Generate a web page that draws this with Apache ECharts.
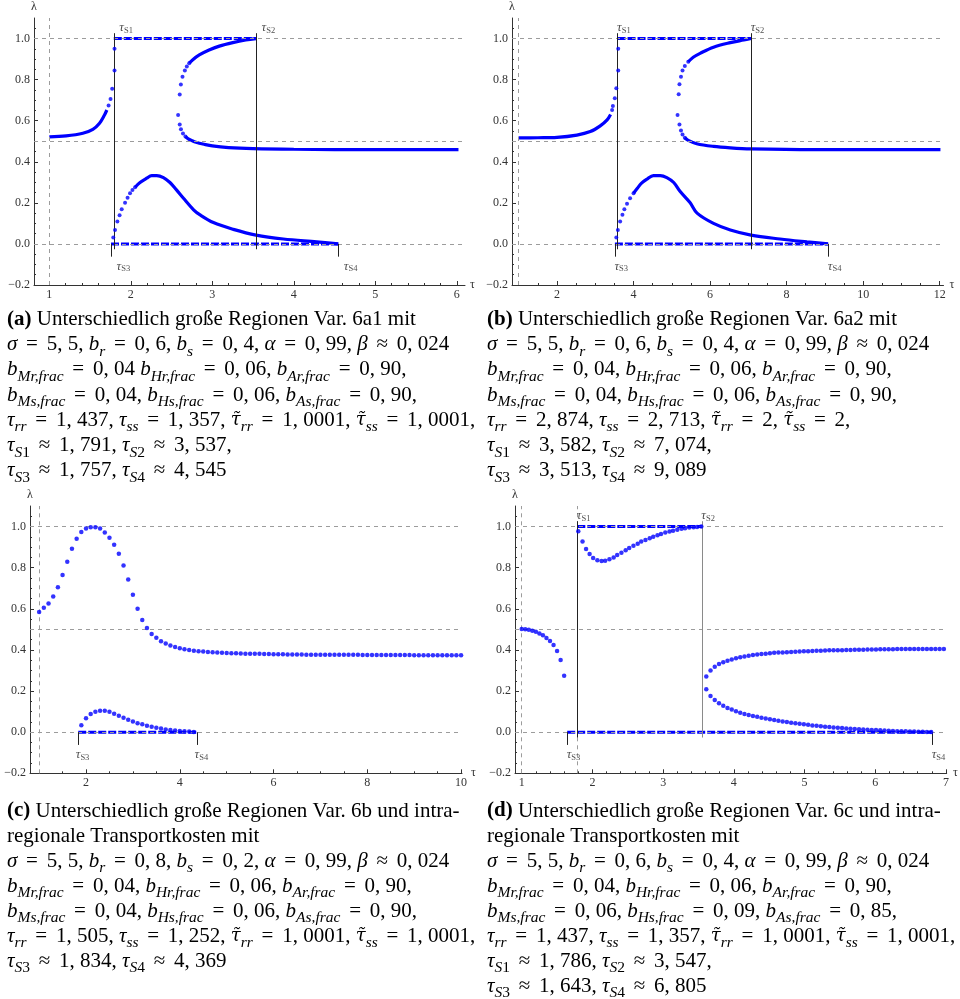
<!DOCTYPE html>
<html><head><meta charset="utf-8">
<script src="https://cdn.jsdelivr.net/npm/echarts@6/dist/echarts.min.js"></script>
<style>html,body{margin:0;padding:0;background:#fff}#c{width:960px;height:999px}</style>
</head><body><div id="c"></div><script>
// ================= DATA =================
// tick values
const yMajor = [-0.2, 0, 0.2, 0.4, 0.6, 0.8, 1.0];
const yMinor = [-0.15,-0.1,-0.05,0.05,0.1,0.15,0.25,0.3,0.35,0.45,0.5,0.55,0.65,0.7,0.75,0.85,0.9,0.95,1.05];
const xMajorA = [1,2,3,4,5,6];
const xMinorA = [1.2,1.4,1.6,1.8,2.2,2.4,2.6,2.8,3.2,3.4,3.6,3.8,4.2,4.4,4.6,4.8,5.2,5.4,5.6,5.8];
const xMajorB = [2,4,6,8,10,12];
const xMinorB = [1,1.5,2.5,3,3.5,4.5,5,5.5,6.5,7,7.5,8.5,9,9.5,10.5,11,11.5];
const xMajorC = [2,4,6,8,10];
const xMinorC = [1,1.5,2.5,3,3.5,4.5,5,5.5,6.5,7,7.5,8.5,9,9.5];
const xMajorD = [1,2,3,4,5,6,7];
const xMinorD = [1.2,1.4,1.6,1.8,2.2,2.4,2.6,2.8,3.2,3.4,3.6,3.8,4.2,4.4,4.6,4.8,5.2,5.4,5.6,5.8,6.2,6.4,6.6,6.8];
// reference levels
const refLevels = [0, 0.5, 1];
const refTau = 1;

// ---- panel (a) ----
const tauSA = [1.791, 3.537, 1.757, 4.545]; // S1, S2, S3, S4
const aLeftLine  = [[1.0,0.521],[1.206,0.526],[1.411,0.539],[1.534,0.558],[1.616,0.588],[1.677,0.628],[1.706,0.652]];
const aLeftDots  = [[1.727,0.674],[1.751,0.706],[1.771,0.755],[1.80,0.844],[1.80,0.95]];
const aUpperDots = [[2.58,0.628],[2.60,0.727],[2.614,0.776],[2.634,0.814],[2.663,0.844],[2.687,0.864],[2.716,0.88]];
const aUpperLine = [[2.716,0.88],[2.757,0.896],[2.84,0.92],[2.96,0.944],[3.086,0.963],[3.25,0.98],[3.41,0.993],[3.537,1.0]];
const aLowerDots = [[2.60,0.581],[2.615,0.558],[2.64,0.538],[2.67,0.523]];
const aLowerLine = [[2.67,0.523],[2.70,0.513],[2.75,0.503],[2.8,0.495],[2.9,0.485],[3.0,0.477],[3.2,0.469],[3.5,0.464],[4.0,0.461],[5.0,0.459],[6.02,0.459]];
const aHumpDots  = [[1.785,0.031],[1.806,0.068],[1.835,0.109],[1.862,0.14],[1.888,0.169],[1.929,0.201],[1.96,0.225],[1.99,0.247],[2.02,0.262],[2.052,0.276]];
const aHumpLine  = [[2.052,0.276],[2.113,0.299],[2.195,0.32],[2.256,0.333],[2.318,0.333],[2.40,0.323],[2.48,0.299],[2.56,0.263],[2.646,0.222],[2.77,0.166],[2.85,0.141],[3.013,0.104],[3.258,0.071],[3.536,0.043],[3.871,0.024],[4.28,0.01],[4.545,0.0]];

// ---- panel (b) ----
const tauSB = [3.582, 7.074, 3.513, 9.089];
const bLeftLine  = [[0.996,0.516],[1.5,0.517],[2.0,0.519],[2.52,0.530],[2.87,0.547],[3.13,0.575],[3.31,0.604],[3.40,0.63]];
const bLeftDots  = [[3.44,0.652],[3.46,0.672],[3.51,0.709],[3.55,0.758],[3.60,0.844],[3.60,0.95]];
const bUpperDots = [[5.15,0.628],[5.18,0.729],[5.20,0.777],[5.24,0.814],[5.28,0.844],[5.34,0.866],[5.43,0.887]];
const bUpperLine = [[5.43,0.887],[5.56,0.909],[5.74,0.928],[6.09,0.958],[6.53,0.98],[6.88,0.993],[7.074,1.0]];
const bLowerDots = [[5.20,0.581],[5.24,0.552],[5.28,0.533],[5.34,0.517]];
const bLowerLine = [[5.34,0.517],[5.43,0.504],[5.65,0.488],[6.09,0.475],[6.53,0.468],[7.07,0.463],[8.71,0.459],[12.02,0.459]];
const bHumpDots  = [[3.55,0.031],[3.59,0.068],[3.65,0.109],[3.71,0.142],[3.76,0.169],[3.83,0.195],[3.91,0.222],[4.0,0.247]];
const bHumpLine  = [[4.0,0.247],[4.1,0.271],[4.21,0.296],[4.35,0.315],[4.52,0.333],[4.7,0.333],[4.87,0.323],[5.05,0.299],[5.22,0.255],[5.48,0.2],[5.66,0.15],[6.09,0.1],[6.53,0.068],[7.07,0.043],[7.83,0.024],[8.53,0.01],[9.08,0.0]];

// ---- panel (c) ----
const tauSC = [1.834, 4.369]; // S3, S4
const cTau = [1.0,1.1,1.2,1.3,1.4,1.5,1.6,1.7,1.8,1.9,
  2.0,2.1,2.2,2.3,2.4,2.5,2.6,2.7,2.8,2.9,
  3.0,3.1,3.2,3.3,3.4,3.5,3.6,3.7,3.8,3.9,
  4.0,4.1,4.2,4.3,4.4,4.5,4.6,4.7,4.8,4.9,
  5.0,5.1,5.2,5.3,5.4,5.5,5.6,5.7,5.8,5.9,
  6.0,6.1,6.2,6.3,6.4,6.5,6.6,6.7,6.8,6.9,
  7.0,7.1,7.2,7.3,7.4,7.5,7.6,7.7,7.8,7.9,
  8.0,8.1,8.2,8.3,8.4,8.5,8.6,8.7,8.8,8.9,
  9.0,9.1,9.2,9.3,9.4,9.5,9.6,9.7,9.8,9.9,10.0];
const cUpper = [0.585,0.605,0.626,0.660,0.705,0.764,0.829,0.892,0.941,0.974,
  0.990,0.997,0.997,0.990,0.971,0.946,0.912,0.868,0.811,0.743,
  0.668,0.600,0.546,0.507,0.478,0.459,0.442,0.431,0.421,0.414,
  0.408,0.403,0.400,0.396,0.394,0.392,0.390,0.389,0.387,0.386,
  0.385,0.384,0.384,0.383,0.382,0.382,0.381,0.381,0.380,0.380,
  0.379,0.379,0.379,0.378,0.378,0.378,0.378,0.377,0.377,0.377,
  0.377,0.377,0.376,0.376,0.376,0.376,0.376,0.376,0.376,0.375,
  0.375,0.375,0.375,0.375,0.375,0.375,0.375,0.375,0.375,0.375,
  0.374,0.374,0.374,0.374,0.374,0.374,0.374,0.374,0.374,0.374,0.374];
const cLowTau = [1.9,2.0,2.1,2.2,2.3,2.4,2.5,2.6,2.7,2.8,2.9,3.0,3.1,3.2,3.3,3.4,3.5,3.6,3.7,3.8,3.9,4.0,4.1,4.2,4.3];
const cLower  = [0.034,0.068,0.088,0.099,0.104,0.104,0.099,0.090,0.080,0.070,0.060,0.052,0.044,0.038,0.031,0.026,0.021,0.018,0.013,0.010,0.008,0.006,0.005,0.003,0.001];

// ---- panel (d) ----
const tauSD = [1.786, 3.547, 1.643, 6.805];
const dLeftTau = [1.00,1.05,1.10,1.15,1.20,1.25,1.30,1.35,1.40,1.45,1.50,1.55,1.60];
const dLeft    = [0.502,0.501,0.498,0.493,0.488,0.480,0.471,0.458,0.444,0.424,0.395,0.351,0.275];
const dDipTau = [1.80,1.86,1.91,1.96,2.01,2.07,2.13,2.18,2.24,2.30,2.35,2.41,2.47,2.52,2.58,2.64,2.69,2.75,2.81,2.86,2.92,2.97,3.03,3.09,3.14,3.20,3.26,3.31,3.37,3.43,3.48,3.54];
const dDip    = [0.977,0.927,0.891,0.867,0.847,0.836,0.833,0.834,0.841,0.850,0.862,0.873,0.885,0.896,0.907,0.917,0.927,0.935,0.943,0.951,0.958,0.964,0.971,0.976,0.980,0.985,0.989,0.992,0.995,0.997,0.998,1.0];
const dRightTau = [3.61,3.67,3.73,3.79,3.85,3.91,3.97,4.03,4.09,4.15,4.21,4.27,4.33,4.39,4.45,4.51,4.57,4.63,4.69,4.75,
  4.81,4.87,4.93,4.99,5.05,5.11,5.17,5.23,5.29,5.35,5.41,5.47,5.53,5.59,5.65,5.71,5.77,5.83,5.89,5.95,
  6.01,6.07,6.13,6.19,6.25,6.31,6.37,6.43,6.49,6.55,6.61,6.67,6.73,6.79,6.85,6.91,6.97];
const dRightUpper = [0.271,0.300,0.318,0.331,0.340,0.347,0.353,0.359,0.364,0.368,0.372,0.375,0.378,0.380,0.382,0.384,0.386,0.387,0.388,0.389,
  0.390,0.391,0.392,0.393,0.394,0.395,0.396,0.396,0.397,0.398,0.398,0.399,0.399,0.400,0.400,0.401,0.401,0.401,0.402,0.402,
  0.402,0.403,0.403,0.403,0.403,0.404,0.404,0.404,0.404,0.404,0.405,0.405,0.405,0.405,0.405,0.405,0.405];
const dRightLower = [0.209,0.176,0.156,0.141,0.128,0.118,0.110,0.102,0.095,0.089,0.084,0.079,0.075,0.070,0.066,0.063,0.059,0.056,0.052,0.049,
  0.046,0.043,0.041,0.038,0.036,0.033,0.031,0.029,0.027,0.025,0.023,0.021,0.020,0.018,0.017,0.015,0.014,0.013,0.012,0.011,
  0.010,0.009,0.008,0.007,0.006,0.005,0.005,0.004,0.003,0.003,0.002,0.002,0.001,0.001];

// ---- captions ----
const capA = [
 '{b|(a)}{n| Unterschiedlich große Regionen Var. 6a1 mit}',
 '{i|σ}{n| = 5, 5, }{i|b}{s|r}{n| = 0, 6, }{i|b}{s|s}{n| = 0, 4, }{i|α}{n| = 0, 99, }{i|β}{n| ≈ 0, 024}',
 '{i|b}{s|Mr,frac}{n| = 0, 04 }{i|b}{s|Hr,frac}{n| = 0, 06, }{i|b}{s|Ar,frac}{n| = 0, 90,}',
 '{i|b}{s|Ms,frac}{n| = 0, 04, }{i|b}{s|Hs,frac}{n| = 0, 06, }{i|b}{s|As,frac}{n| = 0, 90,}',
 '{i|τ}{s|rr}{n| = 1, 437, }{i|τ}{s|ss}{n| = 1, 357, }{tt|τ\u0303}{s|rr}{n| = 1, 0001, }{tt|τ\u0303}{s|ss}{n| = 1, 0001,}',
 '{i|τ}{s|S}{sr|1}{n| ≈ 1, 791, }{i|τ}{s|S}{sr|2}{n| ≈ 3, 537,}',
 '{i|τ}{s|S}{sr|3}{n| ≈ 1, 757, }{i|τ}{s|S}{sr|4}{n| ≈ 4, 545}'
];
const capB = [
 '{b|(b)}{n| Unterschiedlich große Regionen Var. 6a2 mit}',
 '{i|σ}{n| = 5, 5, }{i|b}{s|r}{n| = 0, 6, }{i|b}{s|s}{n| = 0, 4, }{i|α}{n| = 0, 99, }{i|β}{n| ≈ 0, 024}',
 '{i|b}{s|Mr,frac}{n| = 0, 04, }{i|b}{s|Hr,frac}{n| = 0, 06, }{i|b}{s|Ar,frac}{n| = 0, 90,}',
 '{i|b}{s|Ms,frac}{n| = 0, 04, }{i|b}{s|Hs,frac}{n| = 0, 06, }{i|b}{s|As,frac}{n| = 0, 90,}',
 '{i|τ}{s|rr}{n| = 2, 874, }{i|τ}{s|ss}{n| = 2, 713, }{tt|τ\u0303}{s|rr}{n| = 2, }{tt|τ\u0303}{s|ss}{n| = 2,}',
 '{i|τ}{s|S}{sr|1}{n| ≈ 3, 582, }{i|τ}{s|S}{sr|2}{n| ≈ 7, 074,}',
 '{i|τ}{s|S}{sr|3}{n| ≈ 3, 513, }{i|τ}{s|S}{sr|4}{n| ≈ 9, 089}'
];
const capC = [
 '{b|(c)}{n| Unterschiedlich große Regionen Var. 6b und intra-}',
 '{n|regionale Transportkosten mit}',
 '{i|σ}{n| = 5, 5, }{i|b}{s|r}{n| = 0, 8, }{i|b}{s|s}{n| = 0, 2, }{i|α}{n| = 0, 99, }{i|β}{n| ≈ 0, 024}',
 '{i|b}{s|Mr,frac}{n| = 0, 04, }{i|b}{s|Hr,frac}{n| = 0, 06, }{i|b}{s|Ar,frac}{n| = 0, 90,}',
 '{i|b}{s|Ms,frac}{n| = 0, 04, }{i|b}{s|Hs,frac}{n| = 0, 06, }{i|b}{s|As,frac}{n| = 0, 90,}',
 '{i|τ}{s|rr}{n| = 1, 505, }{i|τ}{s|ss}{n| = 1, 252, }{tt|τ\u0303}{s|rr}{n| = 1, 0001, }{tt|τ\u0303}{s|ss}{n| = 1, 0001,}',
 '{i|τ}{s|S}{sr|3}{n| ≈ 1, 834, }{i|τ}{s|S}{sr|4}{n| ≈ 4, 369}'
];
const capD = [
 '{b|(d)}{n| Unterschiedlich große Regionen Var. 6c und intra-}',
 '{n|regionale Transportkosten mit}',
 '{i|σ}{n| = 5, 5, }{i|b}{s|r}{n| = 0, 6, }{i|b}{s|s}{n| = 0, 4, }{i|α}{n| = 0, 99, }{i|β}{n| ≈ 0, 024}',
 '{i|b}{s|Mr,frac}{n| = 0, 04, }{i|b}{s|Hr,frac}{n| = 0, 06, }{i|b}{s|Ar,frac}{n| = 0, 90,}',
 '{i|b}{s|Ms,frac}{n| = 0, 06, }{i|b}{s|Hs,frac}{n| = 0, 09, }{i|b}{s|As,frac}{n| = 0, 85,}',
 '{i|τ}{s|rr}{n| = 1, 437, }{i|τ}{s|ss}{n| = 1, 357, }{tt|τ\u0303}{s|rr}{n| = 1, 0001, }{tt|τ\u0303}{s|ss}{n| = 1, 0001,}',
 '{i|τ}{s|S}{sr|1}{n| ≈ 1, 786, }{i|τ}{s|S}{sr|2}{n| ≈ 3, 547,}',
 '{i|τ}{s|S}{sr|3}{n| ≈ 1, 643, }{i|τ}{s|S}{sr|4}{n| ≈ 6, 805}'
];

// ================= STYLE / LAYOUT =================
const BLUE = '#0000ff', FONT = 'Liberation Serif', AX = '#333';
const layouts = [
  {grid:{left:34, top:18, width:431, height:267}, xMin:0.812, xMax:6.1, xMajor:xMajorA, xMinor:xMinorA, labelDx:6, xNamePad:0},
  {grid:{left:512, top:18, width:431.5, height:267}, xMin:0.824, xMax:12.1, xMajor:xMajorB, xMinor:xMinorB, labelDx:0, xNamePad:0},
  {grid:{left:30, top:506, width:432, height:267.3}, xMin:0.805, xMax:10.02, xMajor:xMajorC, xMinor:xMinorC, labelDx:-2, xNamePad:18},
  {grid:{left:515, top:506, width:431.7, height:267.3}, xMin:0.905, xMax:7.01, xMajor:xMajorD, xMinor:xMinorD, labelDx:0, xNamePad:0}
];

function zip(xs, ys) { return ys.map((y, i) => [xs[i], y]); }
const fmtY = v => v.toFixed(1).replace('-', '\u2212');

const grids = [], xAxes = [], yAxes = [], series = [];
layouts.forEach((L, p) => {
  grids.push(L.grid);
  xAxes.push({type:'value', gridIndex:p, min:L.xMin, max:L.xMax, position:'bottom',
    name:'τ', nameLocation:'end', nameGap:5,
    nameTextStyle:{fontFamily:FONT, fontSize:12, color:AX, padding:[L.xNamePad,0,0,0]},
    axisLine:{onZero:false, lineStyle:{color:AX, width:1}},
    axisTick:{inside:true, length:4, customValues:L.xMajor, lineStyle:{color:AX}},
    axisLabel:{customValues:L.xMajor, margin:4, fontFamily:FONT, fontSize:12, color:AX},
    splitLine:{show:false}});
  xAxes.push({type:'value', gridIndex:p, min:L.xMin, max:L.xMax, position:'bottom',
    axisLine:{show:false, onZero:false},
    axisTick:{inside:true, length:2, customValues:L.xMinor, lineStyle:{color:AX}},
    axisLabel:{show:false}, splitLine:{show:false}});
  yAxes.push({type:'value', gridIndex:p, min:-0.2, max:1.1, position:'left',
    name:'λ', nameLocation:'end', nameGap:5,
    nameTextStyle:{fontFamily:FONT, fontSize:12, color:AX},
    axisLine:{onZero:false, lineStyle:{color:AX, width:1}},
    axisTick:{inside:true, length:4, customValues:yMajor, lineStyle:{color:AX}},
    axisLabel:{customValues:yMajor, margin:4, fontFamily:FONT, fontSize:12, color:AX, formatter:fmtY},
    splitLine:{show:false}});
  yAxes.push({type:'value', gridIndex:p, min:-0.2, max:1.1, position:'left',
    axisLine:{show:false, onZero:false},
    axisTick:{inside:true, length:2, customValues:yMinor, lineStyle:{color:AX}},
    axisLabel:{show:false}, splitLine:{show:false}});
});

function ax(p) { return {xAxisIndex:2*p, yAxisIndex:2*p}; }
function dots(p, data, size) {
  series.push(Object.assign({type:'scatter', data, symbolSize:size || 4, itemStyle:{color:BLUE}, silent:true, z:5}, ax(p)));
}
function curve(p, data) {
  series.push(Object.assign({type:'line', data, smooth:0.35, showSymbol:false, silent:true, z:4,
    lineStyle:{color:BLUE, width:3.2}}, ax(p)));
}
function dashBlue(p, data) {
  series.push(Object.assign({type:'line', data, showSymbol:false, silent:true, z:4,
    lineStyle:{color:BLUE, width:3, type:[8,2]}}, ax(p)));
}
function refs(p, extraX) {
  const d = refLevels.map(v => ({yAxis:v})).concat([{xAxis:refTau}]).concat((extraX||[]).map(v => ({xAxis:v})));
  series.push(Object.assign({type:'line', data:[], silent:true, z:1,
    markLine:{silent:true, symbol:'none', label:{show:false}, animation:false,
      lineStyle:{color:'#9c9c9c', type:[4,4], width:1}, emphasis:{disabled:true}, data:d}}, ax(p)));
}
function sLines(p, taus, colors) {
  taus.forEach((t, k) => {
    series.push(Object.assign({type:'line', data:[], silent:true, z:3,
      markLine:{silent:true, symbol:'none', label:{show:false}, animation:false,
        lineStyle:{color:colors[k], type:'solid', width:1}, emphasis:{disabled:true},
        data:[[{coord:[t,-0.026]},{coord:[t,1.026]}]]}}, ax(p)));
  });
}
function sTicks(p, taus) {
  series.push(Object.assign({type:'line', data:[], silent:true, z:3,
    markLine:{silent:true, symbol:'none', label:{show:false}, animation:false,
      lineStyle:{color:'#222', type:'solid', width:1}, emphasis:{disabled:true},
      data:taus.map(t => [{coord:[t,0]},{coord:[t,-0.062]}])}}, ax(p)));
}
const labRich = {
  t:{fontFamily:FONT, fontStyle:'italic', fontSize:13, color:'#222', lineHeight:14},
  s:{fontFamily:FONT, fontSize:8.5, color:'#222', lineHeight:14, verticalAlign:'bottom', height:8}
};
function sLabels(p, items, dx) {
  series.push(Object.assign({type:'scatter', silent:true, z:6, symbolSize:1,
    itemStyle:{color:'rgba(0,0,0,0)'},
    data: items.map(it => ({value:[it.tau, it.top ? 1 : 0], name:it.name, label:{position:[dx, it.top ? -10.5 : 22.8]}})),
    label:{show:true, align:'left', verticalAlign:'middle',
      formatter: q => '{t|τ}{s|' + q.name + '}', rich:labRich}}, ax(p)));
}

// ---- panel (a) ----
refs(0);
sLines(0, [tauSA[0], tauSA[1]], ['#222','#222']);
sTicks(0, [tauSA[2], tauSA[3]]);
dashBlue(0, [[tauSA[0],1],[tauSA[1],1]]);
dashBlue(0, [[tauSA[2],0],[tauSA[3],0]]);
curve(0, aLeftLine); dots(0, aLeftDots);
curve(0, aUpperLine); dots(0, aUpperDots);
curve(0, aLowerLine); dots(0, aLowerDots);
curve(0, aHumpLine); dots(0, aHumpDots);
sLabels(0, [{tau:tauSA[0],name:'S1',top:1},{tau:tauSA[1],name:'S2',top:1},{tau:tauSA[2],name:'S3',top:0},{tau:tauSA[3],name:'S4',top:0}], layouts[0].labelDx);

// ---- panel (b) ----
refs(1);
sLines(1, [tauSB[0], tauSB[1]], ['#222','#222']);
sTicks(1, [tauSB[2], tauSB[3]]);
dashBlue(1, [[tauSB[0],1],[tauSB[1],1]]);
dashBlue(1, [[tauSB[2],0],[tauSB[3],0]]);
curve(1, bLeftLine); dots(1, bLeftDots);
curve(1, bUpperLine); dots(1, bUpperDots);
curve(1, bLowerLine); dots(1, bLowerDots);
curve(1, bHumpLine); dots(1, bHumpDots);
sLabels(1, [{tau:tauSB[0],name:'S1',top:1},{tau:tauSB[1],name:'S2',top:1},{tau:tauSB[2],name:'S3',top:0},{tau:tauSB[3],name:'S4',top:0}], layouts[1].labelDx);

// ---- panel (c) ----
refs(2);
sTicks(2, tauSC);
dashBlue(2, [[tauSC[0],0],[tauSC[1],0]]);
dots(2, zip(cTau, cUpper), 4.5);
dots(2, zip(cLowTau, cLower), 4.5);
sLabels(2, [{tau:tauSC[0],name:'S3',top:0},{tau:tauSC[1],name:'S4',top:0}], layouts[2].labelDx);

// ---- panel (d) ----
refs(3, [tauSD[0]]);
sLines(3, [tauSD[0], tauSD[1]], ['#222','#8a8a8a']);
sTicks(3, [tauSD[2], tauSD[3]]);
dashBlue(3, [[tauSD[0],1],[tauSD[1],1]]);
dashBlue(3, [[tauSD[2],0],[tauSD[3],0]]);
dots(3, zip(dLeftTau, dLeft), 4.5);
dots(3, zip(dDipTau, dDip), 4.5);
dots(3, zip(dRightTau, dRightUpper), 4.5);
dots(3, zip(dRightTau, dRightLower), 4.5);
sLabels(3, [{tau:tauSD[0],name:'S1',top:1},{tau:tauSD[1],name:'S2',top:1},{tau:tauSD[2],name:'S3',top:0},{tau:tauSD[3],name:'S4',top:0}], layouts[3].labelDx);

// ---- captions ----
const capRich = {
  n:{fontFamily:FONT, fontSize:21, color:'#000', lineHeight:26},
  r:{fontFamily:FONT, fontSize:21, color:'#000', lineHeight:26, padding:[0,3.5,0,3.5]},
  b:{fontFamily:FONT, fontSize:21, fontWeight:'bold', color:'#000', lineHeight:26},
  i:{fontFamily:FONT, fontSize:21, fontStyle:'italic', color:'#000', lineHeight:26},
  tt:{fontFamily:'DejaVu Serif', fontSize:18, fontStyle:'italic', color:'#000', lineHeight:26},
  s:{fontFamily:FONT, fontSize:15.5, fontStyle:'italic', color:'#000', lineHeight:26, verticalAlign:'bottom', height:12},
  sr:{fontFamily:FONT, fontSize:15.5, color:'#000', lineHeight:26, verticalAlign:'bottom', height:12}
};
// split relation symbols into their own (wider-spaced) tokens, like TeX math spacing
function mathify(str) {
  return str.replace(/\{n\|([^}]*)\}/g, (m, body) =>
    body.split(/( = | ≈ )/).map(part => (part === ' = ' || part === ' ≈ ') ? '{r|' + part + '}' : (part ? '{n|' + part + '}' : '')).join(''));
}
const graphics = [];
function caption(lines, x, y0, step) {
  lines.forEach((ln, k) => {
    graphics.push({type:'text', x:x, y:y0 + k*step, silent:true,
      style:{text:mathify(ln), rich:capRich, fontFamily:FONT, fontSize:21, lineHeight:26, fill:'#000', align:'left', verticalAlign:'middle'}});
  });
}
caption(capA, 7, 319.5, 25.2);
caption(capB, 487, 319.5, 25.2);
caption(capC, 7, 811, 25);
caption(capD, 487, 811, 25);

const chart = echarts.init(document.getElementById('c'), null, {renderer:'canvas'});
chart.setOption({animation:false, backgroundColor:'#fff', grid:grids, xAxis:xAxes, yAxis:yAxes, series:series, graphic:graphics});
</script></body></html>
